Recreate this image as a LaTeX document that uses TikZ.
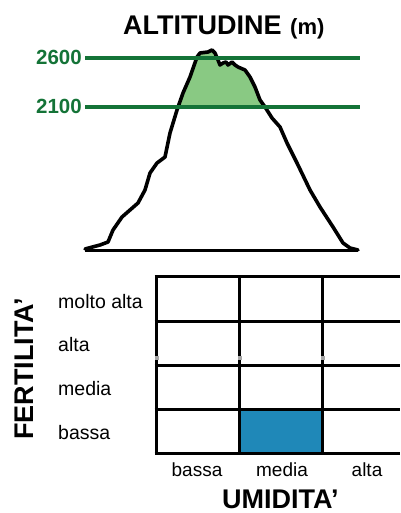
\documentclass[tikz,border=0pt]{standalone}
\usepackage{fontspec}
\setmainfont{Liberation Sans}
\definecolor{levelgreen}{RGB}{20,115,55}
\definecolor{zonegreen}{RGB}{137,201,131}
\definecolor{cellblue}{RGB}{31,136,184}
\begin{document}
\begin{tikzpicture}[x=1pt,y=-1pt,
  outline/.style={line width=3.6pt,line join=round,line cap=round},
  level/.style={levelgreen,line width=3.6pt},
  levellabel/.style={levelgreen,font=\bfseries\fontsize{20.5}{20.5}\selectfont,anchor=base east,inner sep=0pt},
  gridline/.style={line width=3pt},
  rowlabel/.style={font=\fontsize{19.5}{19.5}\selectfont,anchor=base west,inner sep=0pt},
  collabel/.style={font=\fontsize{19}{19}\selectfont,anchor=base,inner sep=0pt},
  axistitle/.style={font=\bfseries\fontsize{27}{27}\selectfont,inner sep=0pt},
  tickmark/.style={fill=black!35,draw=none}]
\useasboundingbox (0,0) rectangle (400,513);

% mountain profile
\def\mountain{(85,249) -- (100,245) -- (108,242) -- (113,230) -- (122,217) -- (130,210) -- (138,203) -- (145,190) -- (150,173) -- (157,163) -- (165,157) -- (170,133) -- (177,110) -- (183,93) -- (190,77) -- (197,57) -- (200,53) -- (208,52) -- (212,50) -- (215,53) -- (218,60) -- (220,65) -- (223,63) -- (226,62) -- (228,65) -- (232,62) -- (235,65) -- (238,67) -- (245,70) -- (250,77) -- (255,87) -- (260,100) -- (265,107) -- (272,118) -- (280,127) -- (287,143) -- (297,163) -- (310,190) -- (320,207) -- (333,227) -- (343,243) -- (350,248) -- (358,250)}

% green band between the two levels
\begin{scope}
  \clip (0,0) rectangle (400,107);
  \fill[zonegreen] \mountain -- cycle;
\end{scope}

\draw[outline] \mountain;
\draw[line width=3pt] (85,250) -- (358,250);

% altitude levels
\coordinate (l1a) at (85,58);  \coordinate (l1b) at (360,58);
\coordinate (l2a) at (85,107); \coordinate (l2b) at (360,107);
\draw[level] (l1a) -- (l1b);
\draw[level] (l2a) -- (l2b);
\node[levellabel] (h2600) at (82,65) {2600};
\node[levellabel] (h2100) at (82,114) {2100};

% title
\node[axistitle,anchor=base west] (title) at (123,35) {ALTITUDINE};
\node[font=\bfseries\fontsize{22}{22}\selectfont,anchor=base west,inner sep=0pt] (unit) at (290,35) {(m)};

% fertility / humidity grid
\fill[cellblue] (239,409) rectangle (322,453);
\foreach \y in {276,321,365,409,453}
  \draw[gridline] (154.5,\y) -- (400,\y);
\foreach \x in {156,239,322}
  \draw[gridline] (\x,276) -- (\x,454.5);
\foreach \x in {156,239,322}
  \fill[tickmark] (\x-1.5,356) rectangle (\x+2.5,360);

% row labels
\node[rowlabel] (r4) at (58,308) {molto alta};
\node[rowlabel] (r3) at (58,351) {alta};
\node[rowlabel] (r2) at (58,395) {media};
\node[rowlabel] (r1) at (58,439) {bassa};
\node[axistitle,anchor=base west,rotate=90] (fert) at (33,440) {FERTILITA’};

% column labels
\node[collabel] (c1) at (197,476) {bassa};
\node[collabel] (c2) at (282,476) {media};
\node[collabel] (c3) at (367,476) {alta};
\node[axistitle,anchor=base west] (umid) at (222,508) {UMIDITA’};
\end{tikzpicture}
\end{document}
